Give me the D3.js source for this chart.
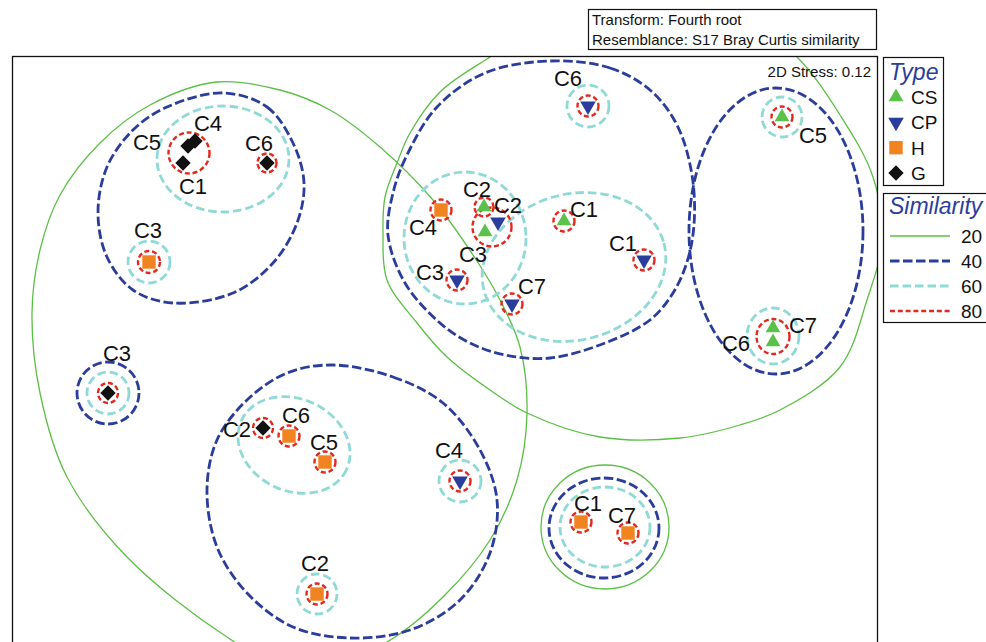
<!DOCTYPE html>
<html>
<head>
<meta charset="utf-8">
<script src="https://cdn.jsdelivr.net/npm/d3@7"></script>
<style>
  html, body { margin: 0; padding: 0; background: #fff; }
  svg { display: block; font-family: "Liberation Sans", Arial, Helvetica, sans-serif; }
</style>
</head>
<body>
<svg id="chart" width="986" height="642"></svg>
<script>
// ---- nMDS ordination (2D) of samples, one set of arrays per type ----
const labelsCS = ["C1", "C2", "C3", "C5", "C6", "C7"];
const xCS = [1.20, 0.40, 0.41, 3.38, 3.29, 3.29];
const yCS = [1.29, 1.43, 1.18, 2.33, 0.08, 0.22];

const labelsCP = ["C1", "C2", "C3", "C4", "C6", "C7"];
const xCP = [2.00, 0.54, 0.13, 0.16, 1.44, 0.68];
const yCP = [0.90, 1.28, 0.70, -1.31, 2.44, 0.46];

const labelsH = ["C1", "C2", "C3", "C4", "C5", "C6", "C7"];
const xH = [1.37, -1.27, -2.95, -0.03, -1.19, -1.55, 1.84];
const yH = [-1.72, -2.44, 0.88, 1.40, -1.12, -0.86, -1.83];

const labelsG = ["C1", "C2", "C3", "C4", "C5", "C6"];
const xG = [-2.61, -1.81, -3.36, -2.49, -2.56, -1.77];
const yG = [1.87, -0.78, -0.43, 2.09, 2.04, 1.87];

const typeNames = ["CS", "CP", "H", "G"];
const similarityLevels = [20, 40, 60, 80];
const stressValue = 0.12;
const transformText = "Transform: Fourth root";
const resemblanceText = "Resemblance: S17 Bray Curtis similarity";

// ---- cluster similarity contours (ordination units) ----
// ellipses: [cx, cy, rx, ry, angle in degrees]
const ellipses80 = [
  [-2.55, 1.97, 0.205, 0.205, 0],
  [0.48, 1.23, 0.195, 0.195, 0],
  [3.29, 0.135, 0.165, 0.175, 0],
  [-1.81, -0.78, 0.10, 0.10, 0],
  [-3.36, -0.43, 0.10, 0.10, 0],
  [-1.77, 1.87, 0.095, 0.095, 0],
  [1.37, -1.72, 0.105, 0.105, 0],
  [-1.27, -2.44, 0.105, 0.105, 0],
  [-2.95, 0.88, 0.11, 0.11, 0],
  [-0.03, 1.40, 0.105, 0.105, 0],
  [-1.19, -1.12, 0.105, 0.105, 0],
  [-1.55, -0.86, 0.105, 0.105, 0],
  [1.84, -1.83, 0.105, 0.105, 0],
  [2.00, 0.90, 0.105, 0.105, 0],
  [0.13, 0.70, 0.105, 0.105, 0],
  [0.16, -1.31, 0.105, 0.105, 0],
  [1.44, 2.44, 0.105, 0.105, 0],
  [0.68, 0.46, 0.105, 0.105, 0],
  [1.20, 1.29, 0.105, 0.105, 0],
  [0.40, 1.43, 0.095, 0.095, 0],
  [3.38, 2.33, 0.105, 0.105, 0]
];

const ellipses60 = [
  [-2.21, 1.91, 0.66, 0.53, 0],
  [-2.95, 0.88, 0.21, 0.21, 0],
  [-3.36, -0.43, 0.21, 0.21, 0],
  [-1.50, -0.95, 0.58, 0.46, -25],
  [-1.27, -2.44, 0.20, 0.20, 0],
  [0.16, -1.31, 0.21, 0.21, 0],
  [1.61, -1.77, 0.45, 0.40, 0],
  [1.44, 2.44, 0.21, 0.21, 0],
  [3.38, 2.33, 0.20, 0.20, 0],
  [3.29, 0.14, 0.26, 0.28, 0],
  [0.21, 1.12, 0.61, 0.66, 0],
  [1.30, 0.83, 0.93, 0.73, 15]
];

const ellipses40 = [
  [-3.36, -0.43, 0.31, 0.31, 0],
  [1.60, -1.78, 0.55, 0.50, 0],
  [3.32, 1.19, 0.87, 1.43, 0]
];

const outline40North = [
  [-2.21, 2.57], [-1.77, 2.43], [-1.51, 2.07], [-1.40, 1.67], [-1.47, 1.27],
  [-1.71, 0.87], [-2.11, 0.57], [-2.71, 0.47], [-3.11, 0.60], [-3.37, 0.93],
  [-3.46, 1.37], [-3.37, 1.83], [-3.11, 2.20], [-2.77, 2.43]
];

const outline40South = [
  [-1.11, -0.15], [-0.51, -0.27], [-0.01, -0.53], [0.36, -1.00], [0.53, -1.50],
  [0.46, -2.03], [0.16, -2.50], [-0.34, -2.80], [-0.94, -2.88], [-1.51, -2.77],
  [-1.97, -2.43], [-2.27, -1.97], [-2.37, -1.40], [-2.27, -0.90], [-1.97, -0.50],
  [-1.57, -0.23]
];

const outline40Centre = [
  [1.06, 2.89], [1.66, 2.82], [2.06, 2.60], [2.33, 2.25], [2.48, 1.75],
  [2.50, 1.25], [2.43, 0.88], [2.29, 0.57], [2.06, 0.30], [1.61, 0.07],
  [1.06, -0.08], [0.61, -0.05], [0.26, 0.07], [-0.04, 0.27], [-0.39, 0.67],
  [-0.56, 1.15], [-0.51, 1.57], [-0.37, 1.95], [-0.07, 2.43], [0.41, 2.77]
];

const ellipses20 = [
  [1.61, -1.77, 0.64, 0.62, 0]
];

const outline20West = [
  [-2.27, 2.68], [-1.64, 2.60], [-1.14, 2.40], [-0.64, 2.03], [-0.11, 1.50],
  [0.31, 0.92], [0.56, 0.50], [0.76, 0.03], [0.83, -0.63], [0.73, -1.30],
  [0.46, -1.90], [-0.01, -2.47], [-0.57, -2.92], [-1.44, -3.25], [-2.17, -2.87],
  [-3.17, -2.07], [-3.77, -1.27], [-4.04, -0.43], [-4.12, 0.37], [-4.04, 1.00],
  [-3.84, 1.55], [-3.44, 2.07], [-2.94, 2.45]
];

const outline20East = [
  [0.46, 2.93], [-0.04, 2.58], [-0.34, 2.17], [-0.47, 1.87], [-0.59, 1.53],
  [-0.61, 1.17], [-0.57, 0.70], [-0.27, 0.27], [0.03, -0.07], [0.46, -0.40],
  [0.83, -0.63], [1.56, -0.87], [2.36, -0.88], [2.96, -0.75], [3.36, -0.60],
  [3.96, -0.17], [4.23, 0.50], [4.38, 1.10], [4.29, 1.73], [3.96, 2.35],
  [3.53, 2.93], [2.96, 3.35], [1.96, 3.50], [1.06, 3.30]
];

// ---- layout & styling ----
const frame = { left: 12, top: 56, right: 877, bottom: 660 };
const svg = d3.select("#chart");

const x = d3.scaleLinear().domain([-4.32, 4.33]).range([frame.left, frame.right]);
const y = d3.scaleLinear().domain([-3.10, 2.94]).range([frame.bottom, frame.top]);
const kx = x(1) - x(0);
const ky = y(0) - y(1);

const levelStyle = {
  20: { stroke: "#5cbf45", width: 1.3, dash: null },
  40: { stroke: "#2b3d9c", width: 2.8, dash: "9.5,3.5" },
  60: { stroke: "#8fdad6", width: 2.8, dash: "8.5,4" },
  80: { stroke: "#e2291f", width: 2.4, dash: "5,2.8" }
};

const typeStyle = {
  CS: { fill: "#5cc14a", shape: d3.symbolTriangle, size: 95, rot: 0 },
  CP: { fill: "#2b3d9c", shape: d3.symbolTriangle, size: 105, rot: 180 },
  H:  { fill: "#f18321", shape: d3.symbolSquare, size: 180, rot: 0 },
  G:  { fill: "#111111", shape: d3.symbolSquare, size: 118, rot: 45 }
};

// label centre offsets in pixels, by type and sample label
const labelOffset = {
  CS: { C1: [20, -12], C2: [-7, -18], C3: [-12, 22], C5: [31, 18], C6: [-37, 1], C7: [30, -3] },
  CP: { C1: [-21, -17], C2: [10, -17], C3: [-27, -8], C4: [-11, -31], C6: [-20, -28], C7: [20, -18] },
  H:  { C1: [7, -19], C2: [-2, -31], C3: [-1, -32], C4: [-18, 17], C5: [-1, -20], C6: [7, -21], C7: [-6, -18] },
  G:  { C1: [10, 23], C2: [-26, 1], C3: [9, -40], C4: [13, -18], C5: [-41, -4], C6: [-8, -20] }
};

const samples = [];
[["CS", labelsCS, xCS, yCS], ["CP", labelsCP, xCP, yCP], ["H", labelsH, xH, yH], ["G", labelsG, xG, yG]]
  .forEach(([t, labs, xs, ys]) => labs.forEach((l, i) => samples.push({ type: t, label: l, x: xs[i], y: ys[i] })));

// ---- header box ----
const head = svg.append("g");
head.append("rect").attr("x", 588.5).attr("y", 9.5).attr("width", 288).attr("height", 40)
  .attr("fill", "#fff").attr("stroke", "#111").attr("stroke-width", 1.2);
head.append("text").attr("x", 592).attr("y", 25).attr("font-size", 15).attr("fill", "#111").text(transformText);
head.append("text").attr("x", 592).attr("y", 45).attr("font-size", 15).attr("fill", "#111").text(resemblanceText);

// ---- plot area ----
svg.append("clipPath").attr("id", "plotClip")
  .append("rect").attr("x", frame.left).attr("y", frame.top)
  .attr("width", frame.right - frame.left).attr("height", frame.bottom - frame.top);

const plot = svg.append("g").attr("clip-path", "url(#plotClip)");

const blob = d3.line().x(d => x(d[0])).y(d => y(d[1])).curve(d3.curveCatmullRomClosed.alpha(0.5));

function drawLevel(level, ellipses, outlines) {
  const st = levelStyle[level];
  const g = plot.append("g").attr("fill", "none").attr("stroke", st.stroke)
    .attr("stroke-width", st.width).attr("stroke-dasharray", st.dash);
  g.selectAll("path").data(outlines).join("path").attr("d", blob);
  g.selectAll("ellipse").data(ellipses).join("ellipse")
    .attr("cx", d => x(d[0])).attr("cy", d => y(d[1]))
    .attr("rx", d => d[2] * kx).attr("ry", d => d[3] * ky)
    .attr("transform", d => `rotate(${-d[4]},${x(d[0])},${y(d[1])})`);
}

drawLevel(20, ellipses20, [outline20West, outline20East]);
drawLevel(40, ellipses40, [outline40North, outline40South, outline40Centre]);
drawLevel(60, ellipses60, []);
drawLevel(80, ellipses80, []);

const sym = d3.symbol();
plot.append("g").selectAll("path").data(samples).join("path")
  .attr("d", d => sym.type(typeStyle[d.type].shape).size(typeStyle[d.type].size)())
  .attr("fill", d => typeStyle[d.type].fill)
  .attr("transform", d => `translate(${x(d.x)},${y(d.y)}) rotate(${typeStyle[d.type].rot})`);

plot.append("g").selectAll("text").data(samples).join("text")
  .attr("x", d => x(d.x) + labelOffset[d.type][d.label][0])
  .attr("y", d => y(d.y) + labelOffset[d.type][d.label][1])
  .attr("dy", "0.36em").attr("text-anchor", "middle")
  .attr("font-size", 22).attr("fill", "#111").text(d => d.label);

svg.append("text").attr("x", 871).attr("y", 77).attr("text-anchor", "end")
  .attr("font-size", 15).attr("fill", "#111").text(`2D Stress: ${stressValue.toFixed(2)}`);

svg.append("rect").attr("x", frame.left + 0.5).attr("y", frame.top + 0.5)
  .attr("width", frame.right - frame.left).attr("height", frame.bottom - frame.top)
  .attr("fill", "none").attr("stroke", "#111").attr("stroke-width", 1.3);

// ---- legend: type ----
const legT = svg.append("g");
legT.append("rect").attr("x", 883.5).attr("y", 57.5).attr("width", 60).attr("height", 128)
  .attr("fill", "#fff").attr("stroke", "#111").attr("stroke-width", 1.2);
legT.append("text").attr("x", 889).attr("y", 80).attr("font-size", 23).attr("font-style", "italic")
  .attr("fill", "#2b3d9c").text("Type");
const legTypeY = d3.scalePoint().domain(typeNames).range([97, 173]);
const legItems = legT.selectAll("g.item").data(typeNames).join("g").attr("class", "item")
  .attr("transform", d => `translate(0,${legTypeY(d)})`);
legItems.append("path")
  .attr("d", d => sym.type(typeStyle[d].shape).size(typeStyle[d].size)())
  .attr("fill", d => typeStyle[d].fill)
  .attr("transform", d => `translate(896,0) rotate(${typeStyle[d].rot})`);
legItems.append("text").attr("x", 911).attr("dy", "0.36em").attr("font-size", 19)
  .attr("fill", "#111").text(d => d);

// ---- legend: similarity ----
const legS = svg.append("g");
legS.append("rect").attr("x", 883.5).attr("y", 193.5).attr("width", 120).attr("height", 129)
  .attr("fill", "#fff").attr("stroke", "#111").attr("stroke-width", 1.2);
legS.append("text").attr("x", 889).attr("y", 214).attr("font-size", 23).attr("font-style", "italic")
  .attr("fill", "#2b3d9c").text("Similarity");
const legSimY = d3.scalePoint().domain(similarityLevels).range([236, 311]);
const simItems = legS.selectAll("g.item").data(similarityLevels).join("g").attr("class", "item")
  .attr("transform", d => `translate(0,${legSimY(d)})`);
simItems.append("line").attr("x1", 890).attr("x2", 950)
  .attr("stroke", d => levelStyle[d].stroke)
  .attr("stroke-width", d => levelStyle[d].width)
  .attr("stroke-dasharray", d => levelStyle[d].dash);
simItems.append("text").attr("x", 961).attr("dy", "0.36em").attr("font-size", 19)
  .attr("fill", "#111").text(d => d);
</script>
</body>
</html>
